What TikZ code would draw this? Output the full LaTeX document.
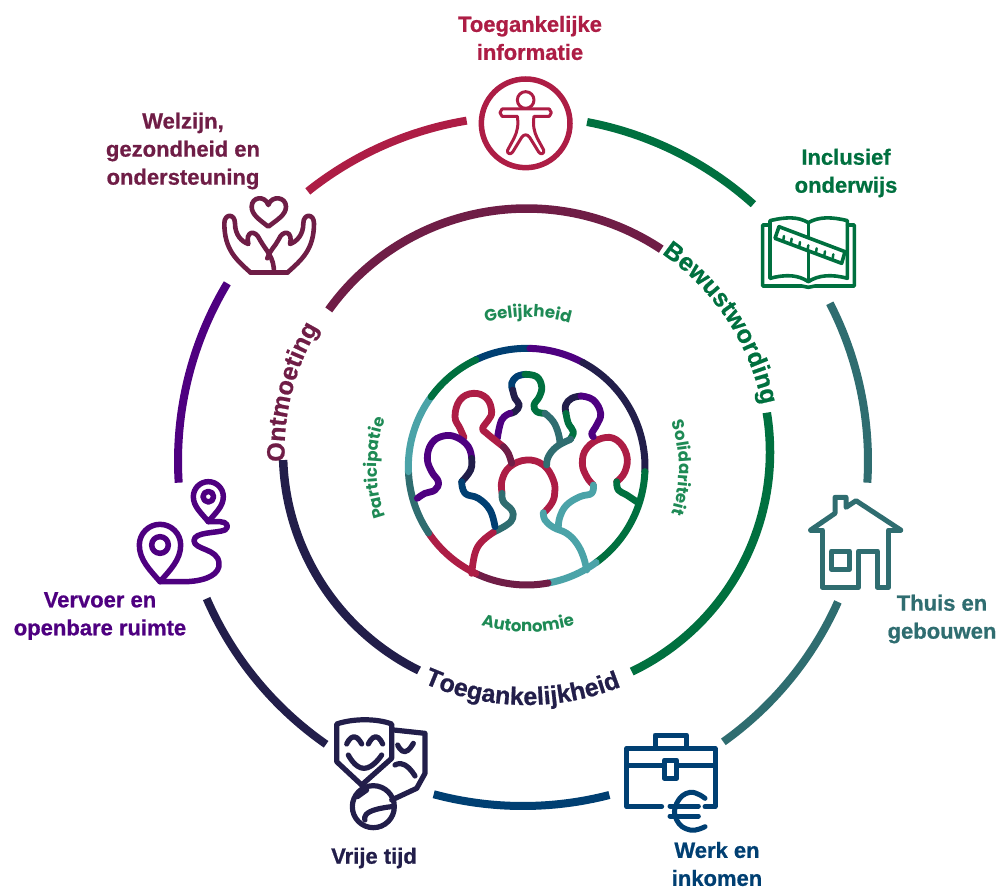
\documentclass[tikz,border=0pt]{standalone}
\usepackage{fontspec}
\usetikzlibrary{decorations.text}
\setmainfont{Liberation Sans}[BoldFeatures={FakeBold=0.8}]
\newfontfamily\innerfont{Poppins}
\definecolor{crim}{HTML}{AD1D45}
\definecolor{grn}{HTML}{00703F}
\definecolor{lgrn}{HTML}{1E8A55}
\definecolor{mar}{HTML}{6F1D46}
\definecolor{purp}{HTML}{4E0080}
\definecolor{nav}{HTML}{221E4A}
\definecolor{blu}{HTML}{003F72}
\definecolor{dteal}{HTML}{2F6D70}
\definecolor{lteal}{HTML}{4BA3A8}
\tikzset{
  lab/.style={font=\fontsize{22}{28}\selectfont\bfseries,align=center,inner sep=0pt},
  ico/.style={line width=#1,line cap=round,line join=round},
  seg/.style={line width=6.8pt,line cap=round,line join=round},
}
\newcommand{\ringarc}[6]{\draw[line width=#6] ({#1+#3*cos(#4)},{#2+#3*sin(#4)}) arc[start angle=#4,end angle=#5,radius=#3];}
\newcommand{\pseg}[2]{\draw[seg,#1] plot[smooth,tension=0.7] coordinates {#2};}
\newcommand{\curvetext}[7]{% cx cy r a1 a2 colour/size text
  \path[postaction={decorate},decoration={text along path,text align=center,text={|#6|#7}}]
   ({#1+#3*cos(#4)},{#2+#3*sin(#4)}) arc[start angle=#4,end angle=#5,radius=#3];}
\newcommand{\ringfont}{\fontsize{25}{25}\selectfont\bfseries}
\newcommand{\innerlab}{\innerfont\fontsize{16.6}{16.6}\selectfont\bfseries\color{lgrn}}
\begin{document}
\begin{tikzpicture}[x=1pt,y=-1pt]
\useasboundingbox (0,0) rectangle (1000,888);
% outer ring
\begin{scope}[draw=grn]\ringarc{523}{461}{345}{-79.3}{-48.1}{8pt}\end{scope}
\begin{scope}[draw=dteal]\ringarc{523}{461}{345}{-27.2}{3.6}{8pt}\ringarc{523}{461}{345}{24.1}{54.5}{8pt}\end{scope}
\begin{scope}[draw=blu]\ringarc{523}{461}{345}{75.5}{105}{8pt}\end{scope}
\begin{scope}[draw=nav]\ringarc{523}{461}{345}{124.8}{156.5}{8pt}\end{scope}
\begin{scope}[draw=purp]\ringarc{523}{461}{345}{176.4}{211}{8pt}\end{scope}
\begin{scope}[draw=crim]\ringarc{523}{461}{345}{231.4}{260.6}{8pt}\end{scope}
% inner ring
\begin{scope}[draw=mar]\ringarc{526.5}{452}{243.5}{215.7}{303.6}{8.5pt}\end{scope}
\begin{scope}[draw=grn]\ringarc{526.5}{452}{243.5}{-9.3}{64.4}{8.5pt}\end{scope}
\begin{scope}[draw=nav]\ringarc{526.5}{452}{243.5}{116.2}{178.1}{8.5pt}\end{scope}
% ring texts
\curvetext{526.5}{452}{240}{-57}{-10}{\color{grn}\ringfont}{Bewustwording}
\curvetext{526.5}{452}{253}{117}{65}{\color{nav}\ringfont}{Toegankelijkheid}
\curvetext{526.5}{452}{242}{175}{213.6}{\color{mar}\ringfont}{Ontmoeting}
% inner labels
\curvetext{528}{468}{151}{-110}{-70}{\innerlab}{Gelijkheid}
\curvetext{528}{468}{151}{-25}{25}{\innerlab}{Solidariteit}
\curvetext{528}{468}{164}{110}{70}{\innerlab}{Autonomie}
\curvetext{528}{468}{151}{155}{205}{\innerlab}{Participatie}
% people
\begin{scope}[shift={(380,330)},x=0.33333pt,y=-0.33333pt]
\foreach \a/\b/\c in {244.5/271.6/blu,271.6/298.4/purp,298.4/362.4/nav,2.4/54.1/grn,54.1/79.6/lteal,79.6/115.5/mar,115.5/145.9/crim,145.9/177.6/dteal,177.6/216.2/lteal,216.2/244.5/grn}{
  \draw[line width=7pt,line cap=round,draw=\c] ({440+355*cos(\a)},{410+355*sin(\a)}) arc[start angle=\a,end angle=\b,radius=355];
}
\pseg{crim}{(366,488)(366,450)(390,410)(440,390)(490,405)(520,450)(524,490)(515,520)(492,548)}
\pseg{dteal}{(366,490)(370,515)(395,540)(398,565)(380,585)(340,607)}
\pseg{crim}{(340,607)(305,635)(285,670)(275,730)}
\pseg{lteal}{(490,548)(495,570)(520,592)(560,610)(590,640)(610,680)(620,720)}
\pseg{crim}{(640,465)(620,440)(607,400)(620,355)(665,325)(710,330)(740,375)(735,425)(710,455)}
\pseg{lteal}{(640,465)(635,490)(600,500)(560,525)(540,560)(535,590)}
\pseg{grn}{(710,455)(715,480)(740,495)(770,515)}
\pseg{nav}{(558,250)(557,225)(575,205)(603,198)}
\pseg{purp}{(603,198)(640,210)(662,250)(650,285)(635,310)(640,320)}
\pseg{grn}{(558,250)(565,280)(580,305)(572,325)}
\pseg{dteal}{(572,328)(530,350)(505,380)(500,405)}
\pseg{blu}{(398,180)(395,160)(410,140)(435,133)}
\pseg{grn}{(435,133)(470,140)(485,170)(478,200)(462,225)(470,245)(495,250)}
\pseg{dteal}{(495,250)(520,275)(535,310)(540,340)}
\pseg{nav}{(398,180)(405,205)(418,225)(405,245)(390,250)}
\pseg{purp}{(390,250)(365,270)(352,325)}
\pseg{crim}{(252,322)(240,295)(225,260)(240,210)(280,190)(320,205)(335,245)(325,270)(308,295)(320,310)(370,350)}
\pseg{mar}{(370,350)(385,370)(395,400)}
\pseg{purp}{(275,385)(265,350)(230,322)(190,318)(155,340)(142,385)(155,425)(175,455)(165,480)(135,490)(112,505)}
\pseg{nav}{(275,385)(272,420)(245,455)}
\pseg{blu}{(245,455)(255,490)(295,505)(330,540)(345,590)}
\end{scope}
% access icon
\begin{scope}[shift={(440,0)},x=0.33333pt,y=-0.33333pt,draw=crim]
\draw[line width=5.5pt] (257,370) circle[radius=133];
\draw[ico=3pt] (257,300) circle[radius=25];
\draw[ico=3pt] (237,327)--(186,327)--(180,338)--(186,349)--(232,349) .. controls (236,375) and (232,395) .. (222,415) -- (203,450) .. controls (200,462) and (212,465) .. (218,456) -- (245,412) .. controls (252,402) and (262,402) .. (269,412) -- (296,456) .. controls (302,465) and (314,462) .. (311,450) -- (292,415) .. controls (282,395) and (278,375) .. (282,349)--(328,349)--(334,338)--(328,327)--(277,327)--cycle;
\end{scope}
% book icon
\begin{scope}[shift={(440,0)},x=0.33333pt,y=-0.33333pt,draw=grn]
\draw[ico=3.6pt] (990,675)--(968,675)--(968,858)--(1085,858)--(1105,862)--(1125,858)--(1243,858)--(1243,675)--(1222,675);
\draw[ico=3.6pt] (990,835)--(990,662) .. controls (1040,650) and (1075,650) .. (1105,668) .. controls (1135,650) and (1175,650) .. (1222,662)--(1222,835) .. controls (1175,822) and (1135,825) .. (1105,845) .. controls (1075,825) and (1040,822) .. (990,835);
\draw[ico=3.6pt] (1105,668)--(1105,845);
\draw[ico=3.6pt,fill=white] (1017,680)--(1215,755)--(1205,790)--(1005,715)--cycle;
\draw[ico=2.5pt] (1032,708)--(1030,720) (1055,716)--(1053,728) (1080,726)--(1078,738) (1105,736)--(1103,748) (1130,745)--(1128,757) (1155,754)--(1153,766) (1180,763)--(1178,775);
\end{scope}
% house
\begin{scope}[shift={(790,480)},x=0.33333pt,y=-0.33333pt,draw=dteal]
\draw[ico=5pt] (62,150)--(135,100)--(135,52)--(168,52)--(168,82)--(198,62)--(332,150);
\draw[ico=5pt] (62,150)--(97,150)--(97,322)--(205,322)--(205,213)--(262,213)--(262,322)--(295,322)--(295,150)--(332,150);
\draw[ico=5pt] (125,213) rectangle (178,268);
\end{scope}
% briefcase
\begin{scope}[shift={(610,720)},x=0.33333pt,y=-0.33333pt,draw=blu]
\draw[ico=5pt] (155,260)--(50,260)--(50,85)--(315,85)--(315,260)--(285,260);
\draw[ico=5pt] (135,85)--(135,45)--(230,45)--(230,85);
\draw[ico=5pt] (50,135)--(160,135) (205,135)--(315,135);
\draw[ico=5pt] (163,120) rectangle (200,175);
\draw[ico=5pt] plot[smooth,tension=0.8] coordinates {(285,235)(240,217)(200,250)(200,300)(240,330)(285,320)};
\draw[ico=5pt] (180,258)--(265,258) (180,288)--(265,288);
\end{scope}
% masks
\begin{scope}[shift={(320,700)},x=0.33333pt,y=-0.33333pt,draw=nav]
\draw[ico=5.2pt] (50,72) .. controls (100,55) and (170,55) .. (215,72)--(215,175)--(125,255)--(50,185)--cycle;
\draw[ico=5.2pt] plot[smooth,tension=1] coordinates {(80,132)(102,110)(125,132)};
\draw[ico=5.2pt] plot[smooth,tension=1] coordinates {(145,132)(167,110)(188,132)};
\draw[ico=5.2pt] plot[smooth,tension=1] coordinates {(85,165)(132,205)(185,165)};
\draw[ico=5.2pt] (222,90)--(315,100)--(315,220)--(290,265)--(215,300);
\draw[ico=5.2pt] plot[smooth,tension=1] coordinates {(233,135)(255,155)(280,130)};
\draw[ico=5.2pt] plot[smooth,tension=1] coordinates {(225,195)(255,195)(285,228)};
\draw[ico=5.2pt] (160,320) circle[radius=63];
\draw[ico=5.2pt] (112,290)--(140,270);
\draw[ico=5.2pt] plot[smooth,tension=1] coordinates {(135,360)(150,335)(215,320)};
\end{scope}
% pins
\begin{scope}[shift={(120,470)},x=0.33333pt,y=-0.33333pt,draw=purp]
\draw[ico=5.5pt] (120,335) .. controls (90,300) and (58,270) .. (58,225) arc[start angle=180,end angle=360,radius=62] .. controls (182,270) and (150,300) .. (120,335);
\draw[ico=5.5pt] (120,225) circle[radius=25];
\draw[ico=5.5pt] (265,155) .. controls (245,130) and (220,110) .. (220,80) arc[start angle=180,end angle=360,radius=45] .. controls (310,110) and (285,130) .. (265,155);
\draw[ico=5.5pt] (265,80) circle[radius=16];
\draw[ico=5.5pt] (120,335)--(200,335) .. controls (265,332) and (300,310) .. (297,280) .. controls (295,235) and (222,240) .. (222,212) .. controls (222,185) and (290,190) .. (315,180) .. controls (330,170) and (320,155) .. (300,155)--(265,155);
\end{scope}
% hands
\begin{scope}[shift={(120,90)},x=0.33333pt,y=-0.33333pt,draw=mar]
\draw[ico=4.6pt] (445,410) .. controls (420,390) and (395,375) .. (395,350) .. controls (395,320) and (435,315) .. (445,345) .. controls (455,315) and (498,320) .. (498,350) .. controls (498,375) and (470,390) .. (445,410)--cycle;
\draw[ico=4.6pt] (392,548) .. controls (350,510) and (313,480) .. (313,400) .. controls (313,370) and (345,370) .. (345,400) .. controls (345,435) and (365,455) .. (385,462) .. controls (375,425) and (405,415) .. (420,450) .. controls (440,485) and (462,500) .. (462,548);
\draw[ico=4.6pt] (502,548) .. controls (544,510) and (582,480) .. (582,400) .. controls (582,370) and (550,370) .. (550,400) .. controls (550,435) and (530,455) .. (510,462) .. controls (520,425) and (490,415) .. (475,450) .. controls (465,470) and (450,480) .. (442,505);
\draw[ico=4.6pt] (392,548)--(502,548);
\end{scope}
% labels
\node[lab,text=crim] (l1) at (530,38) {Toegankelijke\\informatie};
\node[lab,text=grn] (l2) at (846,173) {Inclusief\\onderwijs};
\node[lab,text=mar] (l3) at (183,151) {Welzijn,\\gezondheid en\\ondersteuning};
\node[lab,text=purp] (l4) at (100,616) {Vervoer en\\openbare ruimte};
\node[lab,text=nav] (l5) at (374,858) {Vrije tijd};
\node[lab,text=blu] (l6) at (717,864) {Werk en\\inkomen};
\node[lab,text=dteal] (l7) at (942,619) {Thuis en\\gebouwen};
\end{tikzpicture}
\end{document}
